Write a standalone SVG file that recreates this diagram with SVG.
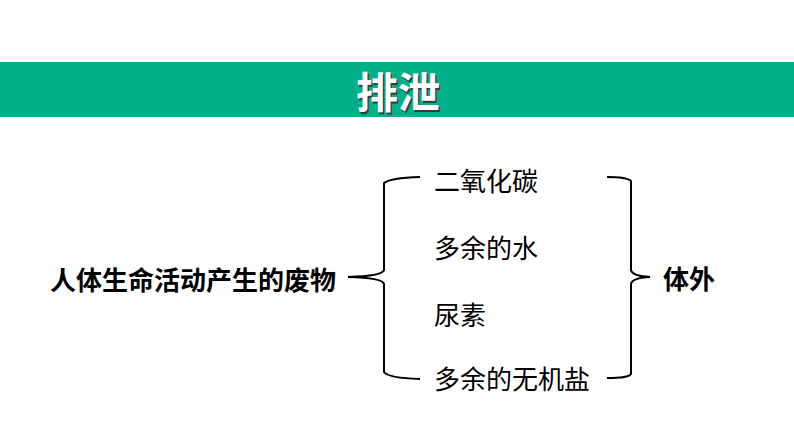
<svg xmlns="http://www.w3.org/2000/svg" width="794" height="447" viewBox="0 0 794 447">
<style>
.t{font-family:"Noto Sans CJK SC","Noto Sans",sans-serif;font-size:26px;fill:#000}
.b{font-weight:bold}
.br{fill:none;stroke:#000;stroke-width:2}
.title{font-family:"Noto Sans CJK SC","Noto Sans",sans-serif;font-size:42px;font-weight:bold;text-anchor:middle}
</style>
<rect x="0" y="0" width="794" height="447" fill="#fff"/>
<g id="banner">
<rect x="0" y="62" width="794" height="55" fill="#00B089"/>
<text class="title" x="399.5" y="109.5" fill="#3a3a3a">排泄</text>
<text class="title" x="398" y="108" fill="#fff">排泄</text>
</g>
<g id="connectors">
<path class="br" d="M420,177 Q390,178 384,183 L384,270 Q383,276 348,277 Q383,278 384,284 L384,372 Q388,378 420,379"/>
<path class="br" d="M607,177 Q627,177 631,181 L631,270 Q632,276 650,277 Q632,278 631,284 L631,374 Q629,378 607,378"/>
</g>
<g id="source"><text class="t b" x="50" y="290">人体生命活动产生的废物</text></g>
<g id="item1"><text class="t" x="434" y="191">二氧化碳</text></g>
<g id="item2"><text class="t" x="434" y="258">多余的水</text></g>
<g id="item3"><text class="t" x="434" y="325">尿素</text></g>
<g id="item4"><text class="t" x="434" y="389">多余的无机盐</text></g>
<g id="target"><text class="t b" x="663" y="289">体外</text></g>
</svg>
